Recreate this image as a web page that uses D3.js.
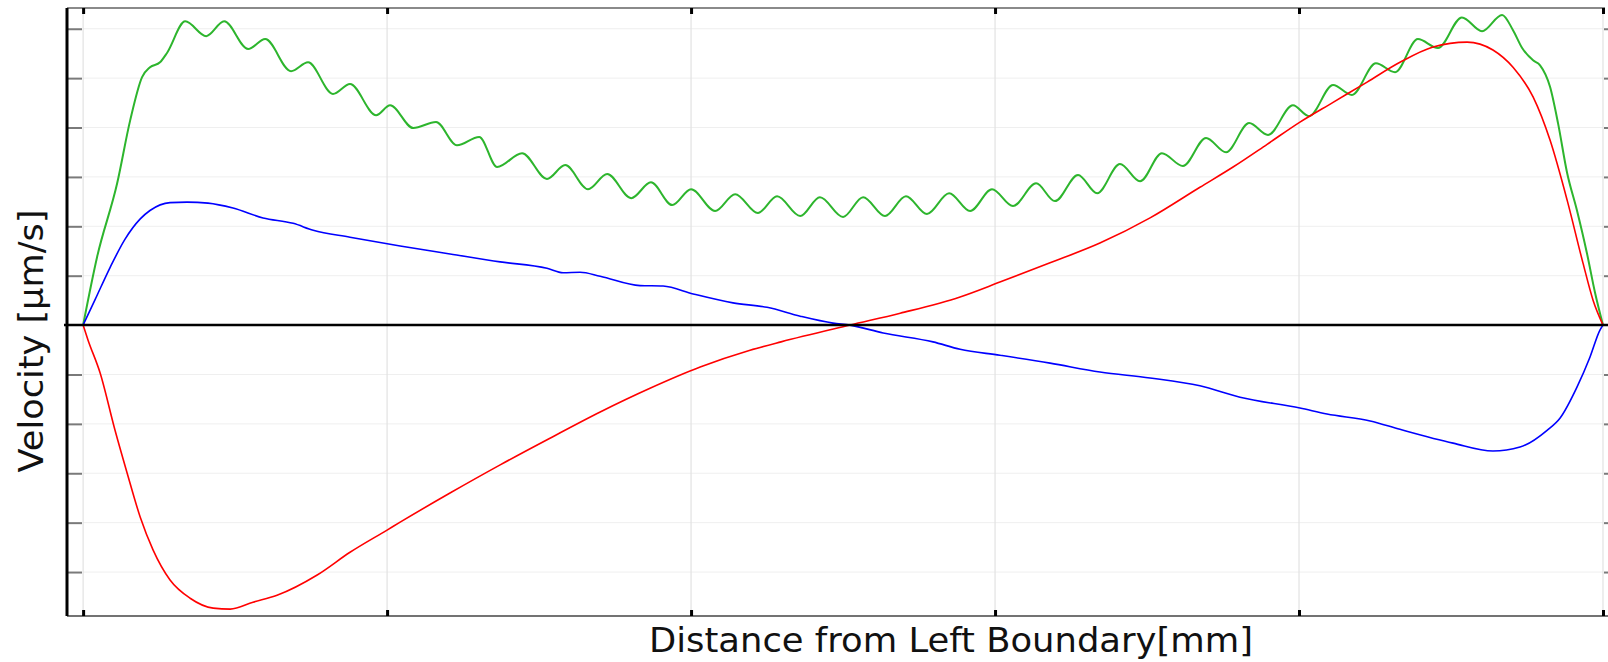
<!DOCTYPE html>
<html>
<head>
<meta charset="utf-8">
<style>
  html, body { margin: 0; padding: 0; background: #fff; }
  svg { display: block; }
</style>
</head>
<body>
<div id="chart_container"></div>

<script src="https://cdn.jsdelivr.net/npm/d3@7"></script>
<script>
// distance in axis units (tick spacing = 1), velocity in tick units
const xTicks = [0, 1, 2, 3, 4, 5]
const yTicks = [-5, -4, -3, -2, -1, 1, 2, 3, 4, 5, 6]

const greenX = [0, 0.046, 0.112, 0.155, 0.194, 0.220, 0.253, 0.276, 0.336, 0.405, 0.464, 0.543, 0.599, 0.684, 0.740,
  0.822, 0.878, 0.964, 1.010, 1.086, 1.161, 1.230, 1.303, 1.362, 1.444, 1.526, 1.586, 1.661, 1.724, 1.803, 1.868,
  1.938, 2.000, 2.079, 2.145, 2.220, 2.283, 2.359, 2.424, 2.500, 2.566, 2.638, 2.707, 2.776, 2.849, 2.918, 2.990,
  3.059, 3.135, 3.197, 3.273, 3.336, 3.411, 3.477, 3.549, 3.618, 3.694, 3.760, 3.836, 3.898, 3.980, 4.033, 4.112,
  4.174, 4.253, 4.316, 4.391, 4.457, 4.536, 4.602, 4.668, 4.704, 4.734, 4.770, 4.793, 4.826, 4.852, 4.882, 4.914,
  4.947, 4.974, 5.0]
const greenY = [0, 1.38, 2.87, 4.15, 5.02, 5.22, 5.32, 5.51, 6.15, 5.85, 6.15, 5.59, 5.79, 5.14, 5.32,
  4.68, 4.88, 4.25, 4.45, 3.99, 4.11, 3.64, 3.81, 3.20, 3.48, 2.96, 3.24, 2.75, 3.06, 2.57, 2.89,
  2.43, 2.75, 2.31, 2.65, 2.27, 2.61, 2.21, 2.59, 2.19, 2.59, 2.21, 2.61, 2.25, 2.67, 2.31, 2.75,
  2.41, 2.87, 2.51, 3.04, 2.67, 3.26, 2.91, 3.48, 3.22, 3.79, 3.50, 4.09, 3.85, 4.45, 4.23, 4.86,
  4.66, 5.30, 5.12, 5.79, 5.61, 6.23, 5.95, 6.28, 5.97, 5.61, 5.36, 5.26, 4.82, 4.09, 3.08, 2.33,
  1.46, 0.65, 0]

const blueX = [0, 0.039, 0.089, 0.138, 0.188, 0.220, 0.286, 0.342, 0.411, 0.493, 0.592, 0.691, 0.757, 0.878,
  1.043, 1.207, 1.372, 1.526, 1.579, 1.635, 1.701, 1.832, 1.908, 2.007, 2.138, 2.250, 2.359, 2.467, 2.523,
  2.632, 2.796, 2.885, 3.016, 3.181, 3.345, 3.510, 3.674, 3.806, 4.003, 4.092, 4.234, 4.332, 4.507, 4.638,
  4.727, 4.816, 4.859, 4.914, 4.957, 4.990, 5.0]
const blueY = [0, 0.51, 1.17, 1.74, 2.15, 2.32, 2.48, 2.49, 2.47, 2.37, 2.17, 2.06, 1.92, 1.78,
  1.60, 1.44, 1.28, 1.15, 1.06, 1.07, 0.99, 0.80, 0.79, 0.63, 0.45, 0.36, 0.18, 0.04, 0,
  -0.16, -0.34, -0.49, -0.61, -0.77, -0.95, -1.07, -1.23, -1.46, -1.68, -1.80, -1.94, -2.11, -2.39, -2.55,
  -2.47, -2.13, -1.88, -1.26, -0.65, -0.10, 0]

const redX = [0, 0.016, 0.056, 0.105, 0.145, 0.188, 0.230, 0.286, 0.352, 0.428, 0.484, 0.559, 0.638, 0.770,
  0.878, 1.0, 1.043, 1.207, 1.372, 1.536, 1.701, 1.865, 2.030, 2.194, 2.296, 2.523, 2.688, 2.885, 3.016,
  3.181, 3.345, 3.510, 3.674, 3.783, 3.895, 4.003, 4.112, 4.224, 4.332, 4.441, 4.553, 4.638, 4.704, 4.770,
  4.826, 4.882, 4.934, 4.967, 5.0]
const redY = [0, -0.30, -0.97, -2.13, -3.00, -3.89, -4.55, -5.16, -5.53, -5.73, -5.75, -5.61, -5.47, -5.06,
  -4.60, -4.15, -3.99, -3.40, -2.83, -2.29, -1.76, -1.28, -0.85, -0.51, -0.34, 0, 0.24, 0.57, 0.87,
  1.26, 1.66, 2.17, 2.79, 3.20, 3.66, 4.11, 4.51, 4.92, 5.32, 5.63, 5.73, 5.57, 5.22, 4.62,
  3.74, 2.53, 1.26, 0.51, 0]

const width = 1608
const height = 662

const svg = d3.select('#chart_container')
  .append('svg')
  .attr('width', width)
  .attr('height', height)

const x = d3.scaleLinear().domain([-0.053, 5]).range([67, 1603])
const y = d3.scaleLinear().domain([-5.89, 6.42]).range([616, 8])

// grid
svg.append('g')
  .selectAll('line')
  .data(yTicks)
  .enter()
  .append('line')
  .attr('x1', x(0)).attr('x2', x(5))
  .attr('y1', d => y(d)).attr('y2', d => y(d))
  .attr('stroke', '#efefef')
  .attr('stroke-width', 1)

svg.append('g')
  .selectAll('line')
  .data(xTicks)
  .enter()
  .append('line')
  .attr('x1', d => x(d)).attr('x2', d => x(d))
  .attr('y1', y.range()[1]).attr('y2', y.range()[0])
  .attr('stroke', '#e2e2e2')
  .attr('stroke-width', 1.2)

// frame lines
svg.append('line')
  .attr('x1', x.range()[0]).attr('x2', x.range()[1] + 2)
  .attr('y1', y.range()[1]).attr('y2', y.range()[1])
  .attr('stroke', '#8a8a8a').attr('stroke-width', 2)

svg.append('line')
  .attr('x1', x.range()[0]).attr('x2', width)
  .attr('y1', y.range()[0]).attr('y2', y.range()[0])
  .attr('stroke', '#444').attr('stroke-width', 1.6)

// y ticks, left and right
const yAxisL = d3.axisLeft(y).tickValues(yTicks).tickSize(-15).tickFormat('')
svg.append('g')
  .attr('transform', `translate(${x.range()[0]},0)`)
  .call(yAxisL)
  .call(g => g.select('.domain').remove())
  .call(g => g.selectAll('.tick line').attr('stroke', '#7a7a7a').attr('stroke-width', 2))

const yAxisR = d3.axisRight(y).tickValues(yTicks).tickSize(6).tickFormat('')
svg.append('g')
  .attr('transform', `translate(${x.range()[1] + 1},0)`)
  .call(yAxisR)
  .call(g => g.select('.domain').remove())
  .call(g => g.selectAll('.tick line').attr('stroke', '#7a7a7a').attr('stroke-width', 2))

// x ticks, bottom and top
const xAxisB = d3.axisBottom(x).tickValues(xTicks).tickSize(-6).tickFormat('')
svg.append('g')
  .attr('transform', `translate(0,${y.range()[0]})`)
  .call(xAxisB)
  .call(g => g.select('.domain').remove())
  .call(g => g.selectAll('.tick line').attr('stroke', '#000').attr('stroke-width', 3))

const xAxisT = d3.axisTop(x).tickValues(xTicks).tickSize(-6).tickFormat('')
svg.append('g')
  .attr('transform', `translate(0,${y.range()[1]})`)
  .call(xAxisT)
  .call(g => g.select('.domain').remove())
  .call(g => g.selectAll('.tick line').attr('stroke', '#000').attr('stroke-width', 3))

// left axis line
svg.append('line')
  .attr('x1', x.range()[0]).attr('x2', x.range()[0])
  .attr('y1', y.range()[1]).attr('y2', y.range()[0])
  .attr('stroke', '#000').attr('stroke-width', 3)

// series
const line = d3.line()
  .x(d => x(d[0]))
  .y(d => y(d[1]))
  .curve(d3.curveMonotoneX)

const series = [
  { xs: greenX, ys: greenY, color: '#2db52d', w: 2 },
  { xs: redX, ys: redY, color: '#ff0000', w: 1.6 },
  { xs: blueX, ys: blueY, color: '#0000ff', w: 1.6 }
]

series.forEach(s => {
  svg.append('path')
    .datum(d3.zip(s.xs, s.ys))
    .attr('d', line)
    .attr('fill', 'none')
    .attr('stroke', s.color)
    .attr('stroke-width', s.w)
    .attr('stroke-linejoin', 'round')
})

// zero line
svg.append('line')
  .attr('x1', x.range()[0] - 3).attr('x2', width)
  .attr('y1', y(0)).attr('y2', y(0))
  .attr('stroke', '#000').attr('stroke-width', 2.5)

// labels
svg.append('text')
  .attr('x', 951)
  .attr('y', 652)
  .attr('text-anchor', 'middle')
  .attr('font-family', 'DejaVu Sans')
  .attr('font-size', 34)
  .attr('textLength', 604)
  .attr('lengthAdjust', 'spacingAndGlyphs')
  .attr('fill', '#111')
  .text('Distance from Left Boundary[mm]')

svg.append('text')
  .attr('transform', 'translate(43,341) rotate(-90)')
  .attr('text-anchor', 'middle')
  .attr('font-family', 'DejaVu Sans')
  .attr('font-size', 34)
  .attr('textLength', 263)
  .attr('lengthAdjust', 'spacingAndGlyphs')
  .attr('fill', '#111')
  .text('Velocity [µm/s]')
</script>
</body>
</html>
